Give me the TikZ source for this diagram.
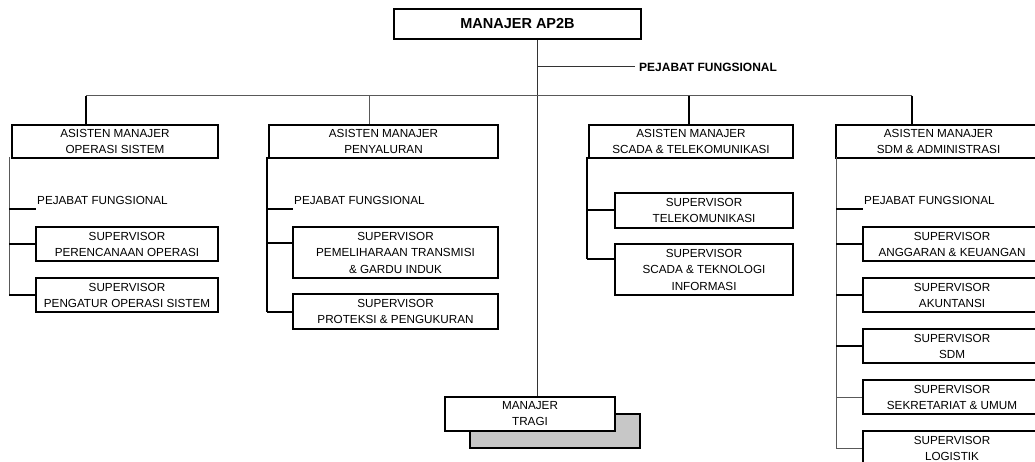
\documentclass[tikz,border=0pt]{standalone}
\usepackage{fontspec}
\setmainfont{Liberation Sans}
\usetikzlibrary{calc}

\begin{document}
\begin{tikzpicture}[
  x=1pt, y=-1pt,
  box/.style={draw, line width=2pt, fill=white, align=center, inner sep=0pt, anchor=north west, font=\fontsize{11.7}{16}\selectfont},
  headbox/.style={box, font=\bfseries\fontsize{14.5}{16}\selectfont},
  shadowbox/.style={draw, line width=2pt, fill=black!22, anchor=north west, inner sep=0pt},
  pflabel/.style={inner xsep=1pt, inner ysep=4.5pt, anchor=south west, font=\fontsize{11.7}{14}\selectfont},
  pfhead/.style={inner xsep=4pt, inner ysep=0pt, anchor=west, font=\bfseries\fontsize{12}{14}\selectfont},
  link/.style={line width=2pt},
  thinlink/.style={line width=1pt, black!65}
]
\useasboundingbox (0,0) rectangle (1035,462);
\clip (0,0) rectangle (1035,462);

\node[headbox, minimum width=247pt, minimum height=30pt] (ap2b) at (393,8) {MANAJER AP2B};
\node[pfhead] (pf0) at (635,67) {PEJABAT FUNGSIONAL};

\coordinate (trunk) at (537,0);
\coordinate (d1) at (86,96);
\coordinate (d2) at (369,96);
\coordinate (d3) at (689,96);
\coordinate (d4) at (912,96);

\node[box, minimum width=206pt, minimum height=33pt] (am1) at (11,124) {ASISTEN MANAJER\\OPERASI SISTEM};
\node[box, minimum width=229pt, minimum height=33pt] (am2) at (268,124) {ASISTEN MANAJER\\PENYALURAN};
\node[box, minimum width=204pt, minimum height=33pt] (am3) at (588,124) {ASISTEN MANAJER\\SCADA \& TELEKOMUNIKASI};
\node[box, minimum width=205pt, minimum height=33pt] (am4) at (835,124) {ASISTEN MANAJER\\SDM \& ADMINISTRASI};

\coordinate (v1) at (9,157);
\coordinate (v2) at (267,157);
\coordinate (v3) at (587,157);
\coordinate (v4) at (836,157);

\node[pflabel] (pf1) at (36,209) {PEJABAT FUNGSIONAL};
\node[box, minimum width=182pt, minimum height=34pt] (s1a) at (35,226) {SUPERVISOR\\PERENCANAAN OPERASI};
\node[box, minimum width=182pt, minimum height=34pt] (s1b) at (35,277) {SUPERVISOR\\PENGATUR OPERASI SISTEM};

\node[pflabel] (pf2) at (293,209) {PEJABAT FUNGSIONAL};
\node[box, minimum width=205pt, minimum height=51pt, font=\fontsize{11.7}{16.5}\selectfont] (s2a) at (292,226) {SUPERVISOR\\PEMELIHARAAN TRANSMISI\\\& GARDU INDUK};
\node[box, minimum width=205pt, minimum height=35pt] (s2b) at (292,293) {SUPERVISOR\\PROTEKSI \& PENGUKURAN};

\node[box, minimum width=178pt, minimum height=35pt] (s3a) at (614,192) {SUPERVISOR\\TELEKOMUNIKASI};
\node[box, minimum width=178pt, minimum height=51pt, font=\fontsize{11.7}{16.5}\selectfont] (s3b) at (614,243) {SUPERVISOR\\SCADA \& TEKNOLOGI\\INFORMASI};

\node[pflabel] (pf4) at (863,209) {PEJABAT FUNGSIONAL};
\node[box, minimum width=178pt, minimum height=34pt] (s4a) at (862,226) {SUPERVISOR\\ANGGARAN \& KEUANGAN};
\node[box, minimum width=178pt, minimum height=34pt] (s4b) at (862,277) {SUPERVISOR\\AKUNTANSI};
\node[box, minimum width=178pt, minimum height=34pt] (s4c) at (862,328) {SUPERVISOR\\SDM};
\node[box, minimum width=178pt, minimum height=34pt] (s4d) at (862,379) {SUPERVISOR\\SEKRETARIAT \& UMUM};
\node[box, minimum width=178pt, minimum height=34pt] (s4e) at (862,430) {SUPERVISOR\\LOGISTIK};

\node[shadowbox, minimum width=170pt, minimum height=34pt] (tragishadow) at (469,413) {};
\node[box, minimum width=170pt, minimum height=34pt] (tragi) at (444,396) {MANAJER\\TRAGI};

\coordinate (c2a) at ([yshift=-17pt]s2a.north west);
\coordinate (c3b) at ([yshift=-16pt]s3b.north west);

\draw[thinlink, black!80] (trunk |- ap2b.south) -- (trunk |- tragi.north);
\draw[thinlink, black!80] (trunk |- pf0.west) -- (pf0.west);
\draw[thinlink] (d1) -- (d4);
\draw[link] (d1) -- (d1 |- am1.north);
\draw[thinlink] (d2) -- (d2 |- am2.north);
\draw[link] (d3) -- (d3 |- am3.north);
\draw[link] (d4) -- (d4 |- am4.north);

\draw[thinlink] (v1) -- (v1 |- s1b.west);
\draw[link] (v1 |- pf1.south west) -- (pf1.south west);
\draw[link] (v1 |- s1a.west) -- (s1a.west);
\draw[link] (v1 |- s1b.west) -- (s1b.west);

\draw[link] (v2) -- (v2 |- s2b.west);
\draw[link] (v2 |- pf2.south west) -- (pf2.south west);
\draw[link] (v2 |- c2a) -- (c2a);
\draw[link] (v2 |- s2b.west) -- (s2b.west);

\draw[link] (v3) -- (v3 |- c3b);
\draw[link] (v3 |- s3a.west) -- (s3a.west);
\draw[link] (v3 |- c3b) -- (c3b);

\draw[thinlink] (v4) -- (v4 |- s4e.west);
\draw[link] (v4 |- pf4.south west) -- (pf4.south west);
\draw[link] (v4 |- s4a.west) -- (s4a.west);
\draw[link] (v4 |- s4b.west) -- (s4b.west);
\draw[link] (v4 |- s4c.west) -- (s4c.west);
\draw[thinlink] (v4 |- s4d.west) -- (s4d.west);
\draw[thinlink] (v4 |- s4e.west) -- (s4e.west);
\end{tikzpicture}
\end{document}
